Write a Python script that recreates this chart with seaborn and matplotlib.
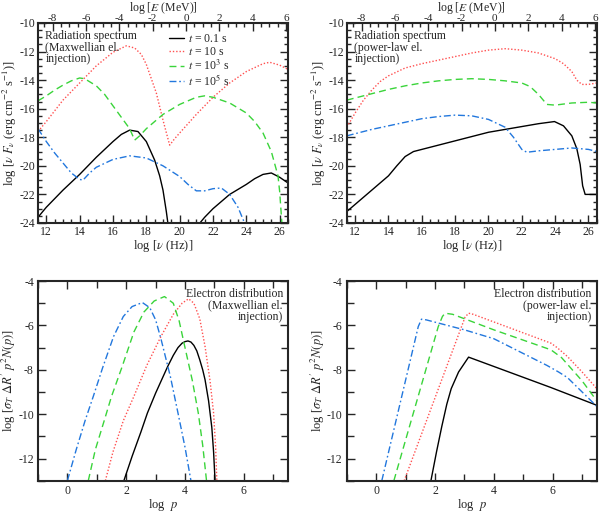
import matplotlib
matplotlib.use("Agg")
import matplotlib.pyplot as plt
import seaborn as sns
from matplotlib.ticker import MultipleLocator
from matplotlib.lines import Line2D

# ---- radiation spectrum, Maxwellian injection (top left) ----
mx_black1_x = [11.5, 12, 13, 14, 15, 16, 16.5, 17, 17.5, 18, 18.5, 18.8, 19.0, 19.2, 19.35]
mx_black1_y = [-23.6, -22.9, -21.7, -20.6, -19.4, -18.3, -17.8, -17.5, -17.6, -18.3, -19.6, -20.7, -21.7, -23.2, -24.5]
mx_black2_x = [21.0, 21.5, 22, 23, 24, 24.5, 25, 25.5, 26, 26.5]
mx_black2_y = [-24.3, -23.6, -23.0, -22.0, -21.3, -20.9, -20.6, -20.5, -20.8, -21.2]
mx_red_x = [11.5, 12, 13, 14, 15, 16, 16.8, 17.3, 17.7, 18, 18.3, 18.6, 19.0, 19.4, 19.7, 20, 21, 22, 23, 24, 25, 25.4, 26, 26.5]
mx_red_y = [-17.6, -16.9, -15.4, -14.2, -13.0, -12.05, -11.6, -11.75, -12.2, -12.9, -13.9, -14.9, -16.8, -18.55, -18.1, -17.7, -16.4, -15.2, -14.2, -13.4, -12.85, -12.75, -12.95, -13.25]
mx_green_x = [11.5, 12, 12.5, 13, 13.5, 14, 14.3, 15, 15.5, 16, 16.5, 17, 17.3, 17.6, 18, 19, 20, 21, 21.5, 22, 23, 24, 24.5, 25, 25.5, 25.9, 26.0, 26.15]
mx_green_y = [-15.45, -15.1, -14.7, -14.35, -14.05, -13.85, -13.9, -14.4, -15.0, -15.8, -16.6, -17.4, -18.2, -17.9, -17.4, -16.4, -15.7, -15.2, -15.1, -15.2, -15.6, -16.3, -16.9, -17.7, -19.0, -20.7, -21.8, -24.3]
mx_blue_x = [11.5, 12, 12.5, 13, 13.5, 14, 14.2, 14.6, 15, 16, 17, 18, 19, 20, 20.5, 21, 21.5, 22, 22.5, 23, 23.5, 24]
mx_blue_y = [-17.4, -18.3, -19.1, -19.8, -20.5, -20.95, -21.0, -20.5, -20.1, -19.55, -19.3, -19.45, -20.0, -20.75, -21.3, -21.75, -21.75, -21.6, -21.55, -22.0, -22.9, -24.3]

# ---- radiation spectrum, power-law injection (top right) ----
pl_black_x = [11.5, 12, 13, 14, 14.5, 15, 15.5, 16, 18, 20, 22, 23, 23.96, 24.5, 25.0, 25.3, 25.5, 25.65, 25.8, 26.5]
pl_black_y = [-23.2, -22.7, -21.7, -20.7, -20.0, -19.35, -19.0, -18.85, -18.25, -17.65, -17.25, -17.05, -16.9, -17.2, -17.9, -18.8, -19.9, -21.4, -22.0, -22.0]
pl_red_x = [11.5, 12, 12.5, 13, 13.5, 14, 15, 16, 17, 18, 19, 20, 21, 22, 23, 24, 24.5, 25, 25.3, 25.6, 26, 26.5]
pl_red_y = [-17.3, -16.3, -15.4, -14.7, -14.1, -13.7, -13.15, -12.85, -12.6, -12.35, -12.1, -11.9, -11.8, -11.9, -12.1, -12.5, -12.85, -13.4, -14.0, -14.3, -14.3, -14.2]
pl_green_x = [11.5, 12, 13, 14, 15, 16, 17, 18, 19, 20, 21, 22, 22.5, 23, 23.5, 24, 25, 26, 26.5]
pl_green_y = [-15.4, -15.25, -14.95, -14.65, -14.4, -14.2, -14.05, -13.95, -13.9, -13.95, -14.05, -14.2, -14.45, -15.0, -15.7, -15.75, -15.6, -15.55, -15.6]
pl_blue_x = [11.5, 12, 13, 14, 15, 16, 17, 18, 19, 20, 21, 21.5, 22, 22.3, 23, 24, 25, 26, 26.5]
pl_blue_y = [-17.9, -17.75, -17.45, -17.2, -16.95, -16.7, -16.55, -16.45, -16.5, -16.75, -17.3, -18.0, -18.85, -19.05, -18.95, -18.85, -18.75, -18.85, -19.0]

# ---- electron distribution, Maxwellian injection (bottom left) ----
emx_black_x = [1.92, 2.2, 2.5, 2.72, 3.0, 3.41, 3.6, 3.76, 3.9, 4.0, 4.1, 4.2, 4.3, 4.4, 4.5, 4.6, 4.68, 4.8, 4.91, 4.97, 5.02]
emx_black_y = [-13, -11.9, -10.8, -9.95, -9.05, -7.85, -7.35, -7.0, -6.8, -6.73, -6.7, -6.75, -6.9, -7.15, -7.55, -8.0, -8.45, -9.4, -10.6, -11.7, -13]
emx_red_x = [1.29, 1.55, 1.9, 2.26, 2.7, 3.18, 3.6, 3.9, 4.12, 4.3, 4.5, 4.68, 4.85, 4.97, 5.04, 5.08]
emx_red_y = [-13, -11.7, -10.3, -9.2, -7.8, -6.5, -5.5, -5.0, -4.8, -5.0, -5.7, -6.95, -8.5, -9.95, -11.5, -13]
emx_green_x = [0.71, 0.95, 1.25, 1.5, 1.85, 2.26, 2.6, 2.95, 3.3, 3.6, 3.8, 3.99, 4.25, 4.45, 4.6, 4.73]
emx_green_y = [-13, -11.6, -10.3, -9.2, -7.9, -6.3, -5.4, -4.9, -4.7, -5.0, -5.8, -6.95, -8.5, -9.95, -11.4, -13]
emx_blue_x = [0.0, 0.3, 0.6, 0.88, 1.2, 1.57, 1.9, 2.2, 2.55, 2.8, 3.0, 3.18, 3.5, 3.76, 4.0, 4.2]
emx_blue_y = [-13, -11.6, -10.3, -9.2, -7.9, -6.5, -5.6, -5.15, -4.97, -5.2, -5.75, -6.6, -8.3, -9.95, -11.5, -13]

# ---- electron distribution, power-law injection (bottom right) ----
epl_black_x = [1.86, 2.05, 2.23, 2.4, 2.55, 2.8, 3.14, 5.94, 7.5]
epl_black_y = [-13, -11.7, -10.55, -9.55, -8.85, -8.1, -7.43, -8.8, -9.6]
epl_red_x = [0.95, 3.02, 3.14, 3.3, 5.94, 6.15, 6.5, 7.0, 7.5]
epl_red_y = [-13, -5.63, -5.45, -5.5, -6.8, -7.0, -7.4, -8.1, -8.85]
epl_green_x = [0.6, 2.11, 2.25, 2.34, 2.6, 4.0, 5.94, 6.3, 7.0, 7.5]
epl_green_y = [-13, -6.05, -5.6, -5.45, -5.5, -6.2, -7.1, -7.45, -8.5, -9.4]
epl_blue_x = [0.19, 1.43, 1.54, 1.7, 3.0, 4.0, 5.8, 6.2, 6.5, 7.0, 7.5]
epl_blue_y = [-13, -6.05, -5.72, -5.75, -6.2, -6.6, -7.8, -8.1, -8.35, -9.0, -9.65]

labels = ["$t$ = 0.1 s", "$t$ = 10 s", "$t$ = 10$^3$ s", "$t$ = 10$^5$ s"]
colors = ["black", "#ff5050", "#3ad43a", "#2277dd"]
styles = ["-", (0, (1, 1.4)), (0, (5, 3)), (0, (5, 2, 1.2, 2))]

LOG_H_MEV = -20.383  # log10(h in MeV s)

sns.set_theme(style="ticks")
plt.rcParams["font.family"] = ["Liberation Serif", "DejaVu Serif"]
plt.rcParams["mathtext.fontset"] = "stix"
plt.rcParams["axes.unicode_minus"] = False
plt.rcParams["xtick.direction"] = "in"
plt.rcParams["ytick.direction"] = "in"

fig = plt.figure(figsize=(6.0, 5.12), dpi=100)
ax_tl = fig.add_axes([0.0633, 0.5645, 0.4167, 0.3906])
ax_tr = fig.add_axes([0.578, 0.5645, 0.4167, 0.3906])
ax_bl = fig.add_axes([0.0633, 0.0611, 0.4167, 0.3900])
ax_br = fig.add_axes([0.578, 0.0611, 0.4167, 0.3900])


def draw(ax, xs, ys, i):
    sns.lineplot(x=xs, y=ys, ax=ax, color=colors[i], linestyle=styles[i],
                 linewidth=1.0, sort=False, estimator=None)


draw(ax_tl, mx_black1_x, mx_black1_y, 0)
draw(ax_tl, mx_black2_x, mx_black2_y, 0)
draw(ax_tl, mx_red_x, mx_red_y, 1)
draw(ax_tl, mx_green_x, mx_green_y, 2)
draw(ax_tl, mx_blue_x, mx_blue_y, 3)

draw(ax_tr, pl_black_x, pl_black_y, 0)
draw(ax_tr, pl_red_x, pl_red_y, 1)
draw(ax_tr, pl_green_x, pl_green_y, 2)
draw(ax_tr, pl_blue_x, pl_blue_y, 3)

draw(ax_bl, emx_black_x, emx_black_y, 0)
draw(ax_bl, emx_red_x, emx_red_y, 1)
draw(ax_bl, emx_green_x, emx_green_y, 2)
draw(ax_bl, emx_blue_x, emx_blue_y, 3)

draw(ax_br, epl_black_x, epl_black_y, 0)
draw(ax_br, epl_red_x, epl_red_y, 1)
draw(ax_br, epl_green_x, epl_green_y, 2)
draw(ax_br, epl_blue_x, epl_blue_y, 3)

fs = 8.5
for ax in (ax_tl, ax_tr):
    ax.set_xlim(11.5, 26.5)
    ax.set_ylim(-24, -10)
    ax.xaxis.set_major_locator(MultipleLocator(2))
    ax.xaxis.set_minor_locator(MultipleLocator(0.5))
    ax.yaxis.set_major_locator(MultipleLocator(2))
    ax.yaxis.set_minor_locator(MultipleLocator(0.5))
    ax.tick_params(which="both", right=True, top=False, labelsize=fs, pad=2)
    ax.tick_params(which="major", length=6, width=1)
    ax.tick_params(which="minor", length=3, width=1)
    ax.set_xlabel(r"log [$\nu$ (Hz)]", fontsize=fs + 0.5, labelpad=0)
    ax.set_ylabel(r"log [$\nu$ $F_\nu$ (erg cm$^{-2}$ s$^{-1}$)]", fontsize=fs + 0.5, labelpad=0)
    sec = ax.secondary_xaxis("top", functions=(lambda x: x + LOG_H_MEV, lambda e: e - LOG_H_MEV))
    sec.xaxis.set_major_locator(MultipleLocator(2))
    sec.xaxis.set_minor_locator(MultipleLocator(0.5))
    sec.tick_params(which="both", direction="in", labelsize=8, pad=0)
    sec.tick_params(which="major", length=6, width=1)
    sec.tick_params(which="minor", length=3, width=1)
    pos = ax.get_position()
    fig.text(pos.x0 + pos.width / 2, 1.0, r"log [$E$ (MeV)]", ha="center", va="top",
             fontsize=fs)
    for s in ax.spines.values():
        s.set_linewidth(1.5)

for ax in (ax_bl, ax_br):
    ax.set_xlim(-1, 7.5)
    ax.set_ylim(-13, -4)
    ax.xaxis.set_major_locator(MultipleLocator(2))
    ax.xaxis.set_minor_locator(MultipleLocator(1))
    ax.yaxis.set_major_locator(MultipleLocator(2))
    ax.yaxis.set_minor_locator(MultipleLocator(1))
    ax.tick_params(which="both", right=True, top=True, labelsize=fs, pad=3)
    ax.tick_params(which="major", length=6, width=1)
    ax.tick_params(which="minor", length=5, width=1)
    ax.set_xlabel(r"log  $p$", fontsize=fs + 0.5, labelpad=0)
    ax.set_ylabel(r"log [$\sigma_T$ $\Delta R^{\prime}$ $p^2N(p)$]", fontsize=fs + 0.5, labelpad=0)
    for s in ax.spines.values():
        s.set_linewidth(1.5)

ax_tl.text(0.03, 0.965, "Radiation spectrum\n(Maxwellian el.\ninjection)", transform=ax_tl.transAxes,
           ha="left", va="top", fontsize=fs, linespacing=0.95)
ax_tr.text(0.03, 0.965, "Radiation spectrum\n(power-law el.\ninjection)", transform=ax_tr.transAxes,
           ha="left", va="top", fontsize=fs, linespacing=0.95)
ax_bl.text(0.98, 0.965, "Electron distribution\n(Maxwellian el.\ninjection)", transform=ax_bl.transAxes,
           ha="right", va="top", fontsize=fs, linespacing=0.95)
ax_br.text(0.98, 0.965, "Electron distribution\n(power-law el.\ninjection)", transform=ax_br.transAxes,
           ha="right", va="top", fontsize=fs, linespacing=0.95)

handles = [Line2D([0], [0], color=colors[i], linestyle=styles[i], linewidth=1.0) for i in range(4)]
ax_tl.legend(handles, labels, loc="upper left", bbox_to_anchor=(0.49, 0.99), frameon=False,
             fontsize=fs, handlelength=1.3, handletextpad=0.3, labelspacing=0.05, borderpad=0.2)

fig.savefig("out.png", dpi=100)
